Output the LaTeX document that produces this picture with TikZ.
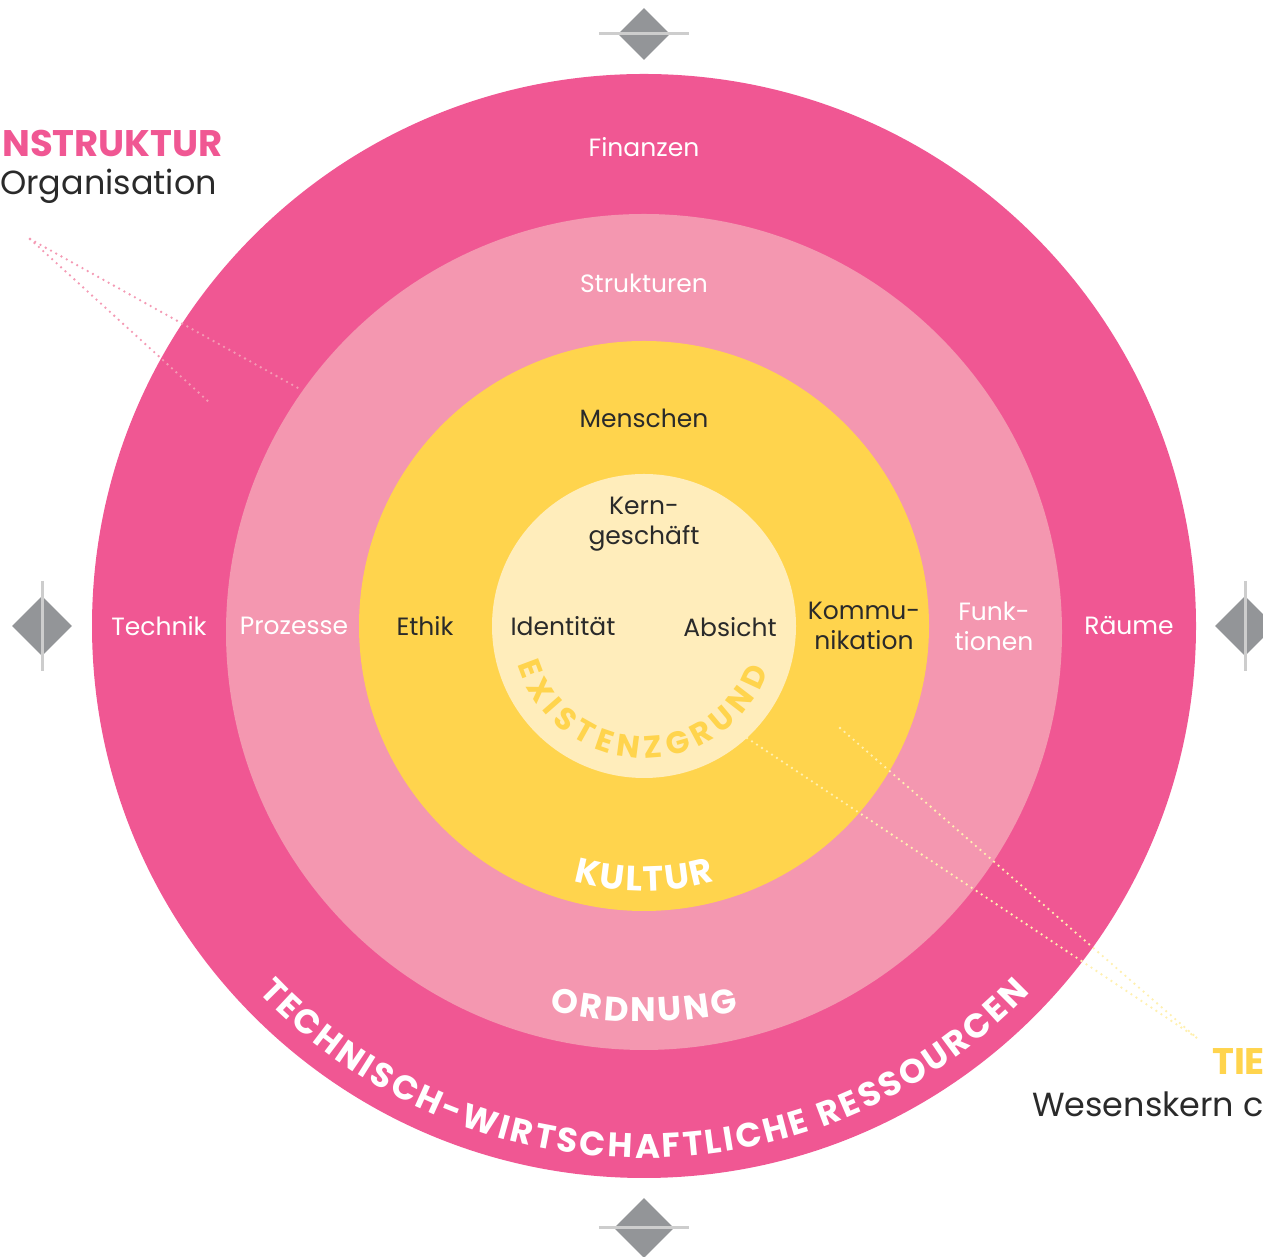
\documentclass[tikz,border=0pt]{standalone}
\usepackage{fontspec}
\setmainfont{Poppins}
\usetikzlibrary{shapes.geometric,decorations.text}

\definecolor{ressourcen}{HTML}{F05793}
\definecolor{ordnung}{HTML}{F497B0}
\definecolor{kultur}{HTML}{FFD44D}
\definecolor{existenz}{HTML}{FFEDBB}
\definecolor{dunkel}{HTML}{2A2A2A}
\definecolor{markergrau}{HTML}{939598}
\definecolor{liniengrau}{HTML}{CDCDCD}
\definecolor{pinkpunkt}{HTML}{F49AB4}
\definecolor{gelbpunkt}{HTML}{FFF0B0}

\newcommand\ringbold[1]{\bfseries\fontsize{#1}{#1}\selectfont}

\begin{document}
\begin{tikzpicture}[x=1pt,y=1pt,
   ringlabel/.style={font=\fontsize{25}{30}\selectfont, align=center, text=white, inner sep=0pt},
   corelabel/.style={ringlabel, text=dunkel},
   marker/.style={diamond, fill=markergrau, inner sep=0pt, minimum size=60pt},
   markerline/.style={draw=liniengrau, line width=3pt},
   dots/.style={line width=2.6pt, line cap=round, dash pattern=on 0pt off 6pt},
   bogentext/.style={decorate, decoration={text along path, text align=fit to path, text color=#1}},
   heading/.style={anchor=west, inner sep=0pt, font=\bfseries\fontsize{37}{37}\selectfont},
   subheading/.style={anchor=west, inner sep=0pt, text=dunkel, font=\fontsize{33.4}{34}\selectfont}]
   \useasboundingbox (0,0) rectangle (1263,1257);
   \clip (0,0) rectangle (1263,1257);

   % rings
   \coordinate (mitte) at (644,631);
   \coordinate (mitteO) at (644,625);
   \fill[ressourcen] (mitte) circle (552pt);
   \fill[ordnung] (mitteO) circle (418pt);
   \fill[kultur] (mitte) circle (285pt);
   \fill[existenz] (mitte) circle (152pt);

   % markers
   \node[marker, minimum size=52pt] (oben) at (644,1223) {};
   \node[marker] (unten) at (644,29) {};
   \node[marker] (links) at (42,631) {};
   \node[marker] (rechts) at (1245,631) {};
   \draw[markerline] ([xshift=-19pt]oben.west) -- ([xshift=19pt]oben.east);
   \draw[markerline] ([xshift=-15pt]unten.west) -- ([xshift=15pt]unten.east);
   \draw[markerline] ([yshift=15pt]links.north) -- ([yshift=-15pt]links.south);
   \draw[markerline] ([yshift=15pt]rechts.north) -- ([yshift=-15pt]rechts.south);

   % dotted pointers
   \coordinate (orgspitze) at (30,1018);
   \coordinate (orgA) at (298,869);
   \coordinate (orgB) at (210,854);
   \coordinate (tiefspitze) at (1197,219);
   \coordinate (tiefA) at (747,519);
   \coordinate (tiefB) at (840,529);
   \draw[dots, pinkpunkt] (orgspitze) -- (orgA);
   \draw[dots, pinkpunkt] (orgspitze) -- (orgB);
   \draw[dots, gelbpunkt] (tiefA) -- (tiefspitze);
   \draw[dots, gelbpunkt] (tiefB) -- (tiefspitze);

   % labels
   \node[ringlabel] (Finanzen) at (644,1110) {Finanzen};
   \node[ringlabel] (Strukturen) at (644,974) {Strukturen};
   \node[corelabel] (Menschen) at (644,839) {Menschen};
   \node[corelabel] (Kern) at (644,733) {Kern-\\geschäft};
   \node[ringlabel] (Technik) at (159,631) {Technik};
   \node[ringlabel] (Prozesse) at (294,631) {Prozesse};
   \node[corelabel] (Ethik) at (425,631) {Ethik};
   \node[corelabel] (Identitaet) at (563,631) {Identität};
   \node[corelabel] (Absicht) at (730,630) {Absicht};
   \node[corelabel] (Kommunikation) at (864,631) {Kommu-\\nikation};
   \node[ringlabel] (Funktionen) at (994,631) {Funk-\\tionen};
   \node[ringlabel] (Raeume) at (1129,631) {Räume};

   % curved titles
   \path[bogentext=kultur, decoration={text={|\ringbold{31}|EXISTENZGRUND}}]
      ([shift={(197:132pt)}]mitte) arc[start angle=197, end angle=340, radius=132pt];
   \path[bogentext=white, decoration={text={|\ringbold{35}|KULTUR}}]
      ([shift={(254.5:265pt)}]mitte) arc[start angle=254.5, end angle=285.5, radius=265pt];
   \path[bogentext=white, decoration={text={|\ringbold{34}|ORDNUNG}}]
      ([shift={(256:390pt)}]mitteO) arc[start angle=256, end angle=284, radius=390pt];
   \path[bogentext=white, decoration={text={|\ringbold{34}|TECHNISCH-WIRTSCHAFTLICHE RESSOURCEN}}]
      ([shift={(223.5:532pt)}]mitte) arc[start angle=223.5, end angle=316.5, radius=532pt];

   % side headings
   \node[heading, text=ressourcen] (Infra) at (2,1114) {NSTRUKTUR};
   \node[subheading] (Organisation) at (0,1071) {Organisation};
   \node[heading, text=kultur] (Tief) at (1212,195) {TIE};
   \node[subheading] (Wesenskern) at (1032,153) {Wesenskern c};
\end{tikzpicture}
\end{document}
